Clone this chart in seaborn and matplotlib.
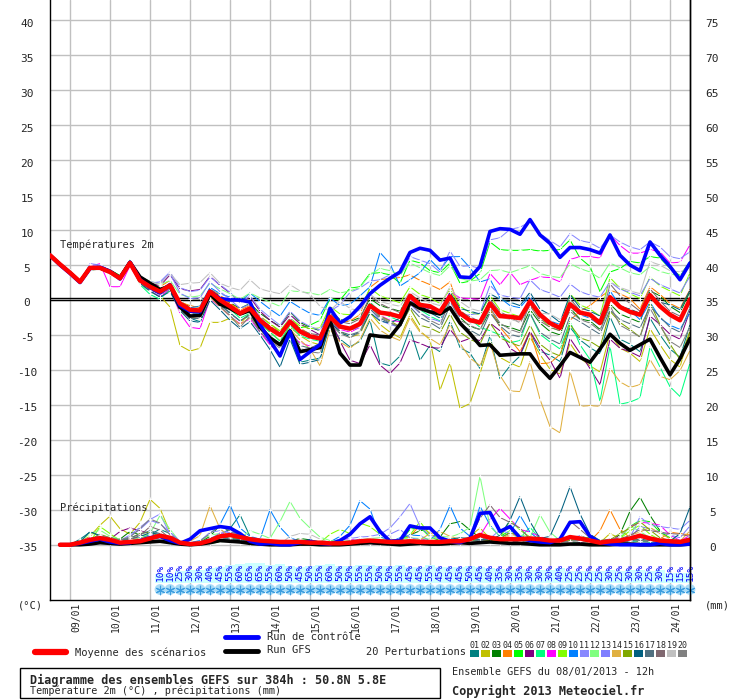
import numpy as np
import pandas as pd
import seaborn as sns
import matplotlib
matplotlib.use("Agg")
import matplotlib.pyplot as plt
import matplotlib.transforms as mtransforms
from matplotlib.patches import Rectangle
from matplotlib.lines import Line2D

sns.set_style("white")
plt.rcParams['font.family'] = ['DejaVu Sans Mono']

# ---- data: GEFS run 08/01/2013 12h, one value every 6 h (0..384 h) ----
dates = ["09/01", "10/01", "11/01", "12/01", "13/01", "14/01", "15/01", "16/01",
         "17/01", "18/01", "19/01", "20/01", "21/01", "22/01", "23/01", "24/01"]

members = ["%02d" % k for k in range(1, 21)]
member_colors = ["#008080", "#c0c000", "#008000", "#ff8000", "#00ff00",
                 "#800080", "#00ff80", "#ff00ff", "#80ff00", "#0080ff",
                 "#8888ff", "#80ff80", "#7f7fff", "#e0b040", "#80a800",
                 "#006080", "#507080", "#806870", "#c0c0c0", "#808080"]

t_mean = [6.4, 5.1, 3.9, 2.6, 4.6, 4.6, 4.0, 3.1, 5.3, 2.8,
          1.9, 1.2, 2.1, -0.5, -1.4, -1.5, 1.2, 0.0, -0.9, -1.9,
          -1.2, -2.9, -4.1, -5.0, -3.1, -4.5, -5.2, -5.5, -2.4, -3.8,
          -4.1, -3.4, -0.8, -1.8, -2.0, -2.4, 0.6, -0.7, -0.9, -1.7,
          0.5, -1.9, -2.9, -3.2, -0.5, -2.3, -2.4, -2.6, -0.2, -2.1,
          -3.3, -4.0, -0.6, -1.8, -2.1, -3.3, 0.4, -1.0, -1.7, -2.1,
          0.7, -0.9, -2.1, -2.9, 0.1]

t_control = [6.4, 5.0, 3.8, 2.5, 4.5, 4.7, 4.1, 3.0, 5.4, 2.9, 1.8, 1.0, 2.2,
             -0.8, -1.6, -1.7, 1.3, 0.2, 0.0, 0.0, -0.3, -3.5, -5.8, -8.0, -4.5,
             -8.5, -7.4, -6.4, -1.2, -3.3, -2.4, -0.9,
             0.9, 2.1, 3.1, 4.0, 6.8, 7.4, 7.1, 5.7, 6.0, 3.3, 3.2, 4.8, 9.8, 10.2,
             10.1, 9.4, 11.5, 9.3, 8.1, 6.1, 7.5, 7.5, 7.2, 6.7, 9.3, 6.4, 5.0, 4.2,
             8.3, 6.4, 4.8, 2.9, 5.3]

t_gfs = [6.4, 5.1, 3.9, 2.6, 4.6, 4.6, 4.1, 3.2, 5.4, 3.3, 2.4, 1.5, 2.0,
         -1.0, -2.3, -2.2, 0.9, -0.6, -1.2, -2.0, -1.5, -3.9, -5.4, -6.4, -4.4,
         -7.4, -7.1, -6.8, -2.9, -7.6, -9.3, -9.3,
         -5.0, -5.2, -5.3, -3.5, -0.4, -1.2, -1.7, -2.0, -1.1, -3.3, -4.8, -6.5,
         -6.4, -7.9, -7.8, -7.7, -7.7, -9.7, -11.2, -9.4, -7.5, -8.2, -8.9, -7.0,
         -4.9, -6.2, -7.2, -6.4, -5.6, -8.2, -10.7, -8.4, -5.5]

t_members = [
    [6.3, 5.0, 3.8, 2.4, 4.4, 4.8, 3.9, 3.3, 5.2, 2.5, 1.6, 0.9, 1.8,
     -1.2, -2.6, -3.1, 0.8, -0.6, -1.9, -3.0, -2.2, -4.5, -6.3, -7.7, -5.2, -8.9, -8.6, -8.3, -3.6, -5.6, -6.7, -5.9,
     -2.9, -9.0, -9.4, -8.0, -4.1, -8.6, -6.5, -7.4, -3.0, -6.8, -7.6, -9.8, -5.1, -11.3, -9.4, -8.0, -4.6, -7.3,
     -7.9, -8.8, -3.9, -5.7, -6.8, -7.7, -2.4, -5.6, -6.3, -7.4, -2.6, -5.0, -7.0, -8.2, -3.5],
    [6.2, 5.0, 4.0, 2.7, 4.3, 4.4, 3.8, 3.0, 5.0, 2.9, 2.2, 0.6, -1.0,
     -6.5, -7.3, -6.9, -3.2, -3.2, -2.6, -3.4, -1.8, -3.3, -4.6, -5.8, -3.9, -5.1, -6.0, -6.4, -3.2, -4.5, -5.3, -4.9,
     -1.8, -3.5, -4.6, -5.4, -2.1, -4.4, -5.7, -12.9, -9.0, -15.5, -14.8, -10.5, -5.9, -8.2, -9.0, -9.6, -5.3, -7.8,
     -9.9, -10.6, -6.2, -8.3, -9.4, -10.3, -4.8, -6.9, -7.6, -8.8, -4.1, -6.4, -8.5, -9.6, -4.5],
    [6.5, 5.2, 4.1, 2.8, 4.9, 4.8, 4.2, 3.4, 5.6, 3.1, 2.0, 1.0, 1.9,
     -0.2, -1.0, -0.9, 1.4, 0.6, -0.4, -1.2, -0.5, -1.9, -2.9, -3.8, -1.7, -3.2, -3.9, -4.4, -1.5, -2.8, -3.1, -2.5,
     0.2, -0.8, -1.2, -1.6, 0.9, -0.3, -1.4, -2.1, 0.8, -2.5, -3.8, -4.2, -1.6, -3.5, -3.9, -4.4, -1.4, -3.3,
     -4.5, -5.0, -1.2, -2.7, -3.0, -4.2, -0.6, -2.0, -2.6, -3.2, 1.3, 0.6, -0.9, -1.8, 1.2],
    [6.4, 5.1, 3.8, 2.5, 4.7, 4.5, 3.9, 3.0, 5.3, 2.7, 2.2, 1.9, 2.8,
     -0.3, -0.8, -1.1, 1.6, 0.7, -0.5, -1.4, -0.8, -2.3, -3.4, -4.6, -2.6, -4.0, -4.9, -5.3, -2.0, -3.2, -3.0, -2.1,
     1.8, 2.9, 3.1, 3.2, 3.6, 2.8, 2.2, 1.5, 2.6, -1.4, -2.8, -3.6, -1.2, -3.9, -5.6, -7.4, -4.5, -9.1,
     -9.0, -7.8, -2.9, -1.6, -0.8, 0.4, 1.4, 0.9, 0.2, -1.3, 1.9, 0.8, -0.5, -1.2, 1.5],
    [6.6, 5.3, 4.0, 2.7, 4.8, 4.7, 4.3, 3.5, 5.7, 2.4, 1.2, 0.5, 1.4,
     -0.9, -1.6, -1.8, 0.6, -0.4, -1.1, -2.2, -1.5, -3.0, -3.9, -4.6, -2.9, -4.0, -3.6, -2.9, 0.2, 0.0, 1.7, 1.9,
     3.8, 3.9, 3.6, 2.4, 5.7, 5.3, 4.2, 3.9, 5.3, 2.4, 2.7, 3.8, 8.3, 7.2, 7.1, 7.1, 7.2, 7.0,
     7.1, 7.2, 8.6, 6.0, 4.8, 1.2, 4.0, 4.5, 5.5, 5.3, 6.2, 6.0, 4.5, 3.5, 5.5],
    [6.3, 5.0, 3.9, 2.6, 4.5, 4.6, 4.0, 3.2, 5.2, 3.0, 2.5, 2.0, 3.6,
     1.6, 1.3, 1.5, 3.4, 2.1, 1.0, -0.3, 0.4, -1.6, -2.9, -3.9, -2.1, -3.4, -4.2, -5.0, -2.7, -5.9, -8.6, -9.1,
     -6.4, -9.3, -10.5, -9.0, -5.7, -6.2, -6.8, -6.9, -4.2, -6.0, -5.5, -5.8, -3.3, -4.4, -6.9, -7.8, -4.5, -6.8,
     -8.6, -11.2, -5.5, -7.6, -9.8, -12.1, -5.6, -6.9, -7.4, -8.1, -2.3, -3.5, -4.9, -5.6, -1.5],
    [6.5, 5.2, 3.9, 2.6, 4.6, 4.6, 4.1, 3.1, 5.5, 2.2, 0.8, 0.1, 1.6,
     -1.1, -1.9, -2.0, 0.9, -0.2, -1.3, -2.6, -1.9, -3.3, -4.6, -5.9, -3.6, -5.1, -5.6, -5.9, -2.0, -3.9, -4.4, -3.7,
     -0.3, -1.7, -2.4, -3.0, 0.2, -1.4, -2.3, -3.0, 0.3, -1.9, -2.7, -3.9, -4.4, -5.0, -6.1, -5.8, -1.9, -4.9,
     -6.0, -7.0, -3.1, -6.4, -8.5, -14.5, -6.6, -14.9, -14.6, -14.0, -6.7, -9.6, -12.4, -13.8, -9.0],
    [6.4, 5.0, 3.8, 2.5, 4.8, 5.2, 1.9, 1.9, 4.9, 2.4, 1.3, 0.5, 1.6,
     -1.9, -3.9, -4.1, 0.2, -1.0, -2.3, -3.4, -2.7, -4.6, -6.4, -7.7, -4.8, -6.1, -6.6, -7.0, -3.4, -4.2, -4.6, -3.9,
     -1.0, -2.2, -2.9, -3.1, 0.1, -0.9, -1.3, -1.6, 1.2, 0.3, 0.2, 0.1, 3.8,
     2.2, 4.0, 2.2, 2.8, 3.3, 3.2, 2.6, 5.8, 6.2, 6.2, 6.0, 9.3, 7.8, 6.7, 6.7, 7.2, 6.9, 5.3, 5.4, 7.9],
    [6.4, 5.1, 4.0, 2.7, 4.6, 4.4, 3.9, 3.0, 5.2, 2.6, 1.7, 1.1, 2.0,
     -0.8, -1.6, -1.4, 1.0, -0.2, -1.1, -2.0, -1.0, -2.4, -3.4, -4.4, -2.6, -3.7, -4.1, -4.0, -0.9, -2.0, -2.1, -1.3,
     1.7, 0.6, 0.1, -0.4, 1.9, 0.8, 0.3, -0.5, 1.5, -0.9, -1.8, -2.1, 0.6, -1.4, -1.9, -2.4, -0.6, -2.6,
     -3.9, -4.4, 0.9, -0.7, -1.3, -2.3, 3.2, 1.7, 0.9, 0.2, 3.3, 2.0, 1.3, 0.6, 3.9],
    [6.3, 5.0, 3.9, 2.6, 4.4, 4.6, 4.2, 3.4, 5.5, 3.2, 2.3, 1.5, 2.4,
     -0.4, -1.1, -0.9, 1.8, 0.9, 0.4, -0.3, 1.0, -0.2, -1.3, -2.3, -0.2, -1.1, -1.9, -2.2, 0.3, -0.8, -0.6, 0.6,
     1.9, 6.8, 5.2, 2.0, 2.9, 3.9, 5.8, 4.3, 6.2, 6.2, 4.6, 2.6, 3.0, 0.3, -0.8, -1.1, 0.6, -2.4,
     -3.0, -3.5, -0.9, -2.1, -2.6, -3.6, 1.3, -0.8, -1.5, -2.8, -0.3, -2.6, -3.6, -4.2, -1.8],
    [6.5, 5.3, 4.1, 2.8, 5.0, 4.9, 4.3, 3.3, 5.5, 2.9, 2.4, 2.6, 4.0,
     1.8, 1.2, 1.4, 3.3, 2.2, 1.1, -0.4, 0.6, -1.3, -2.5, -3.6, -1.6, -3.0, -3.8, -4.3, -1.6, -0.7, 1.1, 1.7,
     2.7, 2.9, 3.6, 3.4, 6.2, 5.7, 5.2, 4.0, 7.0, 4.8, 4.9, 4.5, 8.6, 8.9, 10.1, 10.4, 11.2, 9.5,
     8.5, 7.6, 9.5, 8.5, 8.2, 7.4, 9.3, 8.3, 7.6, 7.2, 8.3, 7.6, 6.2, 5.9, 6.9],
    [6.5, 5.2, 4.1, 2.8, 4.7, 4.7, 4.2, 3.4, 5.6, 3.3, 2.7, 2.2, 2.8,
     0.8, 0.4, 0.6, 2.4, 1.6, 0.9, 0.1, 1.0, 0.3, -0.3, -0.9, 1.3, 1.2, 1.0, 0.7, 1.5, 1.0, 1.3, 1.8,
     3.6, 4.5, 4.2, 3.6, 5.3, 4.6, 3.9, 3.5, 4.9, 3.1, 2.7, 2.9, 4.2, 4.3, 3.9, 4.4, 4.9, 3.8,
     3.4, 3.2, 5.2, 4.5, 4.0, 3.1, 5.3, 4.6, 3.9, 3.6, 4.8, 4.1, 3.7, 3.5, 4.9],
    [6.2, 4.9, 3.7, 2.4, 5.2, 5.0, 4.2, 3.0, 5.6, 3.4, 2.6, 2.4, 3.8,
     1.0, 0.2, 0.3, 2.6, 1.2, 0.1, -1.2, -0.6, -2.4, -3.8, -4.8, -2.6, -4.3, -5.1, -5.0, -2.2, -3.7, -4.3, -3.9,
     -1.2, -2.9, -3.5, -3.9, -0.6, -1.9, -2.6, -3.1, -0.3, -2.4, -2.1, -1.9, 2.1, 0.7, 0.4, 0.2, 2.9, 1.5,
     1.0, 0.4, 2.3, 1.2, 0.7, 0.4, 2.6, 1.5, 1.1, 0.6, 3.1, 2.2, 1.6, 1.0, 3.4],
    [6.3, 5.0, 3.9, 2.6, 4.5, 4.4, 3.8, 2.9, 5.1, 2.3, 1.6, 0.9, 1.9,
     -1.6, -2.5, -2.7, 0.4, -1.0, -2.3, -3.5, -2.5, -4.1, -5.6, -6.6, -4.2, -5.7, -7.0, -9.4, -4.2, -6.0, -6.9, -5.7,
     -2.6, -4.3, -5.2, -5.8, -2.5, -4.6, -5.5, -6.4, -3.5, -6.2, -8.3, -9.4, -6.1, -10.8, -13.0, -13.1, -8.8, -14.2,
     -18.1, -19.0, -10.2, -15.2, -15.1, -15.2, -9.8, -11.7, -12.5, -12.1, -8.5, -10.9, -11.4, -10.1, -7.2],
    [6.4, 5.2, 4.0, 2.6, 4.6, 4.5, 4.1, 3.2, 5.3, 2.6, 1.8, 1.3, 2.1,
     -0.7, -1.5, -1.7, 1.0, -0.4, -1.3, -2.2, -1.4, -2.9, -4.0, -5.2, -3.2, -4.4, -5.3, -5.6, -2.5, -3.8, -4.3, -3.6,
     -1.0, -2.3, -3.0, -3.8, -1.2, -3.6, -4.0, -4.7, -2.0, -4.6, -5.6, -6.3, -3.3, -5.4, -6.1, -6.6, -3.6, -6.3,
     -7.4, -8.0, -3.5, -5.4, -5.9, -6.8, -1.6, -3.2, -4.2, -5.3, -0.4, -3.5, -6.3, -8.5, -4.4],
    [6.3, 5.1, 3.9, 2.5, 4.3, 4.4, 3.8, 3.1, 5.2, 2.4, 1.3, 0.4, 1.2,
     -1.5, -3.0, -3.2, 0.0, -1.4, -2.9, -4.1, -3.1, -5.0, -7.1, -9.6, -5.6, -9.2, -8.9, -8.5, -3.0, -4.7, -5.2, -4.6,
     -1.8, -3.0, -3.3, -2.6, 0.7, -0.7, -1.8, -2.6, 1.1, -1.2, -1.6, -2.0, 0.9, 0.1, -0.3, -0.8, 1.1, -1.3,
     -2.1, -3.2, 0.8, -1.1, -1.6, -2.3, 0.6, -0.9, -1.3, -1.9, 0.8, -0.3, -0.7, -1.4, 1.4],
    [6.2, 4.9, 3.8, 2.4, 4.4, 4.6, 4.0, 3.0, 5.3, 2.6, 1.5, 0.8, 1.7,
     -1.3, -2.7, -2.6, 0.7, -0.8, -1.8, -3.0, -2.0, -4.1, -5.5, -6.5, -4.2, -6.5, -6.9, -6.2, -2.6, -4.5, -5.0, -4.5,
     -1.3, -2.6, -3.3, -3.9, -1.0, -2.5, -3.2, -4.1, -0.8, -3.4, -4.3, -5.1, -1.8, -3.7, -4.9, -5.3, -1.9, -4.6,
     -5.6, -6.3, -2.3, -3.1, -4.0, -4.9, -1.4, -2.8, -3.4, -4.0, -0.9, -2.4, -3.9, -4.6, -1.1],
    [6.4, 5.1, 3.9, 2.6, 4.5, 4.6, 4.1, 3.2, 5.4, 2.8, 1.9, 1.2, 2.1,
     -0.6, -1.4, -1.5, 1.1, -0.3, -1.2, -2.1, -1.3, -2.8, -3.7, -4.8, -2.8, -4.2, -4.8, -5.0, -1.9, -3.1, -3.4, -2.7,
     0.6, -0.5, -1.2, -1.8, 1.0, -0.6, -1.3, -2.2, 0.2, -1.6, -2.4, -3.1, 0.1, -1.7, -2.4, -3.3, -0.8, -3.0,
     -3.9, -4.4, 0.2, -1.5, -2.6, -3.5, 2.3, 0.6, -0.5, -1.6, 1.6, -0.1, -1.6, -2.3, -0.4],
    [6.5, 5.2, 4.0, 2.7, 4.8, 4.7, 4.1, 3.3, 5.5, 3.2, 2.6, 2.3, 3.8,
     2.2, 2.4, 2.5, 3.9, 2.4, 1.8, 1.4, 2.9, 1.6, 1.2, 0.9, 2.2, 1.3, 0.8, -0.9, -1.5, -0.2, -1.2, -1.6,
     0.8, -0.2, -0.6, -0.9, 1.2, 0.3, -0.4, -0.8, 1.9, -0.2, -1.2, -1.6, -1.9, -2.4, -2.8, -3.1, -0.6, -1.9,
     -2.0, -2.8, -1.3, -1.9, -2.4, -2.8, 2.6, 1.8, 1.3, 0.9, 5.5, 5.0, 4.2, 4.0, 4.7],
    [6.3, 5.0, 3.8, 2.5, 4.6, 4.5, 3.9, 3.1, 5.3, 2.9, 2.0, 1.3, 2.3,
     -0.8, -1.9, -2.1, 0.9, -0.9, -2.2, -3.9, -2.3, -4.6, -5.8, -6.9, -4.6, -6.9, -7.4, -7.6, -3.4, -4.8, -5.4, -4.6,
     -0.9, -2.4, -3.2, -3.9, -0.4, -1.8, -2.9, -3.6, -0.1, -2.9, -3.6, -4.3, -1.1, -3.3, -4.2, -4.7, -0.2, -2.7,
     -3.6, -4.2, -1.6, -2.8, -3.3, -4.4, -0.8, -3.6, -4.4, -5.3, -1.2, -3.7, -5.9, -6.8, -3.8],
]

# precipitation (mm per 6 h), from +6 h to +384 h
p_mean = [0, 0, 0.3, 0.7, 0.95, 0.7, 0.3, 0.4, 0.5, 0.9,
          1.3, 1.0, 0.3, 0.1, 0.2, 0.6, 1.2, 1.4, 1.1, 0.8,
          0.6, 0.5, 0.4, 0.4, 0.4, 0.3, 0.3, 0.2, 0.2, 0.3,
          0.5, 0.6, 0.5, 0.4, 0.4, 0.5, 0.4, 0.4, 0.4, 0.5,
          0.5, 0.8, 1.4, 1.0, 0.8, 0.8, 0.8, 0.9, 0.8, 0.6,
          0.6, 1.1, 0.9, 0.6, 0.3, 0.5, 0.6, 0.9, 1.3, 0.9,
          0.6, 0.5, 0.4, 0.7]

p_control = [0, 0, 0.2, 0.5, 0.8, 0.4, 0.2, 0.3, 0.6, 1.0,
             1.2, 0.6, 0.2, 0.8, 2.0, 2.3, 2.6, 2.4, 1.6, 0.5,
             0.1, 0.2, 0, 0, 0.3, 0.5, 0.2, 0.1, 0.6, 1.5,
             3.0, 4.0, 1.9, 0.5, 0.6, 2.7, 2.4, 2.4, 1.0, 0.5,
             0.3, 0.9, 4.5, 4.6, 1.9, 2.6, 1.0, 0.6, 0.4, 0.3,
             0.8, 3.2, 3.3, 1.2, 0.3, 0.1, 0, 0, 0, 0,
             0.2, 0, 0, 0.1]

p_gfs = [0, 0, 0, 0.1, 0.3, 0.2, 0.1, 0.2, 0.3, 0.4,
         0.5, 0.3, 0.1, 0, 0.1, 0.3, 0.6, 0.5, 0.4, 0.2,
         0.1, 0, 0, 0, 0.1, 0.1, 0, 0, 0, 0.1,
         0.2, 0.3, 0.2, 0.1, 0, 0.1, 0.2, 0.1, 0.1, 0.2,
         0.3, 0.2, 0.3, 0.4, 0.3, 0.2, 0.2, 0.1, 0, 0,
         0, 0.1, 0.1, 0, 0, 0, 0.1, 0.1, 0, 0,
         0, 0, 0, 0.1]

p_members = [
    [0, 0, 0.8, 1.8, 1.2, 0.5, 0.3, 0.5, 0.9, 1.5, 2.2, 1.6, 0.4, 0.2, 0.3, 0.5, 1.4, 2.3, 4.3, 1.2,
     0.5, 0.3, 0.2, 0.1, 0.2, 0.3, 0.1, 0, 0, 0.2, 0.4, 0.3, 0.1, 0, 0.2, 0.5, 0.3, 0.2, 0.1, 0.4,
     0.6, 0.3, 0.8, 0.5, 0.3, 0.2, 0.4, 0.2, 0.1, 0, 0.2, 0.6, 0.4, 0.2, 0, 0.1, 0.3, 0.6, 1.2, 0.8,
     0.5, 0.3, 0.6, 1.0],
    [0, 0, 0.5, 1.2, 2.8, 4.1, 2.3, 1.5, 3.2, 6.5, 5.2, 1.8, 0.3, 0, 0.2, 0.8, 1.3, 0.9, 0.5, 0.3,
     0.2, 0, 0, 0.1, 0.3, 0.2, 0.1, 0, 0.2, 0.4, 0.6, 0.3, 0.2, 0.1, 0.3, 0.2, 0.1, 0.4, 0.8, 0.5,
     0.3, 1.2, 2.4, 0.9, 0.6, 0.4, 0.3, 0.2, 0.1, 0.3, 0.5, 0.8, 0.4, 0.1, 0.3, 1.6, 0.9, 0.6, 0.4, 0.2,
     0.1, 0.3, 0.2, 0.5],
    [0, 0, 0.3, 0.9, 1.0, 0.6, 0.8, 1.9, 1.4, 1.0, 1.3, 0.8, 0.2, 0.1, 0.4, 1.2, 2.8, 1.9, 1.5, 1.0,
     0.6, 0.4, 0.3, 0.5, 0.9, 0.7, 0.4, 0.3, 0.1, 0.2, 0.4, 0.6, 0.5, 0.3, 0.8, 1.4, 2.0, 2.3, 1.1, 3.0,
     3.3, 2.1, 1.0, 0.7, 0.5, 0.6, 0.4, 0.2, 0.3, 0.5, 0.2, 0.4, 0.8, 0.6, 0.5, 0.3, 1.5, 4.8, 6.8, 4.2,
     2.0, 0.8, 0.3, 0.4],
    [0, 0, 0.2, 0.5, 0.8, 0.4, 0.3, 0.6, 0.9, 1.1, 1.4, 0.9, 0.3, 0.1, 0.3, 0.6, 1.0, 1.2, 0.8, 0.6,
     0.4, 0.3, 0.2, 0.4, 0.5, 0.3, 0.2, 0.1, 0.2, 0.4, 0.6, 0.5, 0.8, 0.4, 0.6, 1.2, 2.8, 1.6, 0.7, 0.5,
     0.8, 0.9, 1.0, 0.4, 0.8, 1.2, 0.6, 0.3, 0.2, 0.3, 0.4, 0.6, 0.8, 0.5, 2.0, 5.0, 2.2, 1.0, 0.6, 0.5,
     0.8, 1.8, 1.6, 1.4],
    [0, 0, 0.1, 0.3, 0.5, 0.2, 0.1, 0.3, 0.5, 0.8, 0.6, 0.3, 0.1, 0, 0.1, 0.2, 0.4, 0.6, 0.3, 0.2,
     0.1, 0.1, 0, 0.1, 0.2, 0.1, 0, 0, 0.1, 0.3, 0.4, 0.5, 0.4, 0.2, 0.3, 2.2, 2.5, 1.1, 0.6, 0.4,
     0.3, 0.5, 0.6, 0.8, 1.2, 2.0, 1.4, 0.6, 0.3, 0.2, 0.3, 0.5, 1.0, 0.6, 0.4, 0.3, 1.0, 2.6, 3.5, 3.3,
     1.8, 1.0, 0.6, 0.4],
    [0, 0, 0.2, 0.6, 1.0, 0.8, 1.9, 2.4, 2.0, 1.6, 1.1, 0.7, 0.2, 0, 0.1, 0.3, 0.6, 0.8, 0.5, 0.3,
     0.2, 0.1, 0.1, 0.1, 0.2, 0.1, 0, 0, 0.1, 0.2, 0.2, 0.1, 0.1, 0, 0.2, 0.4, 0.3, 0.2, 0.1, 0.1,
     0.2, 0.4, 0.6, 0.4, 0.3, 0.2, 0.1, 0.1, 0, 0, 0.1, 0.2, 0.3, 0.2, 0.1, 0, 0.1, 0.3, 0.4, 0.3,
     0.2, 0.1, 0.1, 0.3],
    [0, 0, 0.2, 0.5, 0.4, 0.3, 0.2, 0.4, 0.6, 0.9, 0.8, 0.4, 0.1, 0, 0.2, 0.4, 0.7, 0.9, 0.6, 0.4,
     0.3, 0.2, 0.1, 0.2, 0.3, 0.2, 0.1, 0, 0.1, 0.2, 0.3, 0.2, 0.2, 0.1, 0.3, 0.6, 0.4, 0.3, 0.2, 0.5,
     0.6, 0.4, 0.5, 0.3, 0.2, 0.6, 1.0, 2.5, 0.8, 0.4, 0.3, 0.2, 0.5, 1.2, 0.6, 0.3, 0.2, 0.4, 0.6, 0.3,
     0.2, 0.1, 0.2, 0.5],
    [0, 0, 0.5, 1.0, 0.7, 0.4, 0.3, 0.5, 0.8, 1.2, 1.5, 0.9, 0.3, 0.1, 0.2, 0.6, 1.7, 1.3, 0.9, 0.6,
     0.4, 0.3, 0.2, 0.3, 0.5, 0.4, 0.2, 0.1, 0.7, 0.9, 0.4, 0.3, 0.2, 0.1, 0.3, 0.7, 0.9, 0.5, 0.3, 0.6,
     0.8, 0.9, 1.3, 3.6, 5.2, 3.7, 2.2, 1.8, 1.2, 0.6, 0.5, 0.8, 0.6, 0.4, 0.3, 0.6, 1.2, 2.6, 3.2, 3.1,
     2.8, 1.4, 0.6, 1.3],
    [0, 0, 0.2, 0.4, 2.6, 1.6, 0.6, 0.5, 0.9, 1.4, 1.0, 0.5, 0.1, 0, 0.1, 0.3, 0.5, 0.6, 0.4, 0.3,
     0.2, 0.1, 0.2, 0.3, 0.6, 0.4, 0.3, 1.5, 2.2, 1.6, 3.1, 2.6, 1.5, 0.8, 0.6, 1.4, 3.3, 1.4, 0.9, 0.5,
     0.6, 0.8, 1.4, 1.0, 0.9, 3.5, 2.1, 1.1, 0.6, 0.3, 0.2, 0.4, 1.1, 0.9, 0.6, 0.3, 0.9, 2.0, 2.8, 1.5,
     0.7, 0.4, 0.3, 0.6],
    [0, 0, 0.3, 0.7, 0.6, 0.4, 0.3, 0.6, 1.0, 1.4, 1.2, 0.6, 0.2, 0.3, 0.6, 1.6, 2.9, 5.7, 2.4, 1.2,
     0.8, 5.0, 2.5, 1.0, 0.5, 0.3, 0.2, 0.4, 1.2, 2.8, 6.3, 5.1, 1.2, 0.4, 1.0, 1.4, 1.3, 0.6, 2.2, 5.6,
     2.4, 1.2, 5.5, 2.8, 1.1, 1.6, 4.2, 1.8, 0.6, 0.3, 0.5, 0.7, 0.5, 0.3, 0.2, 0.4, 0.6, 0.4, 0.3, 0.2,
     0.3, 0.2, 0.1, 0.4],
    [0, 0, 0.3, 0.6, 1.0, 0.8, 0.6, 1.4, 2.5, 3.6, 4.4, 1.5, 0.3, 0.1, 0.5, 1.8, 2.0, 1.7, 1.4, 0.9,
     0.6, 0.5, 0.4, 0.4, 0.6, 0.5, 0.3, 0.4, 0.8, 0.9, 1.1, 1.2, 1.5, 2.4, 4.0, 5.9, 2.6, 1.3, 0.8, 0.5,
     0.6, 0.8, 1.0, 0.9, 2.1, 1.6, 1.2, 0.9, 0.6, 0.4, 0.5, 0.9, 1.3, 0.8, 0.5, 0.4, 0.7, 1.0, 4.0, 2.8,
     2.6, 2.4, 2.2, 3.5],
    [0, 0, 0.5, 1.6, 2.1, 1.2, 0.8, 0.6, 1.0, 1.6, 4.2, 2.2, 0.4, 0.1, 0.5, 1.4, 1.6, 1.2, 0.9, 2.0,
     1.5, 0.9, 3.3, 6.2, 3.8, 2.4, 1.1, 0.6, 0.5, 0.6, 0.7, 0.9, 1.0, 0.6, 0.8, 1.0, 0.9, 0.8, 1.2, 1.1,
     1.6, 2.5, 9.8, 2.6, 1.2, 0.7, 1.5, 1.0, 4.3, 1.8, 0.6, 0.5, 0.6, 0.4, 0.3, 0.5, 1.1, 2.7, 1.9, 1.0,
     0.6, 0.4, 0.5, 0.8],
    [0, 0, 0.4, 0.8, 0.9, 0.6, 0.5, 1.2, 2.2, 3.5, 3.0, 1.8, 0.5, 0.2, 0.4, 0.9, 1.6, 2.0, 1.3, 0.9,
     0.7, 0.5, 0.3, 0.4, 0.6, 0.5, 0.3, 0.2, 0.4, 0.5, 0.8, 0.6, 0.4, 1.5, 2.2, 1.0, 0.7, 0.5, 0.4, 0.6,
     0.8, 1.0, 1.5, 1.2, 0.9, 0.6, 0.5, 0.4, 0.3, 0.3, 0.4, 0.9, 1.2, 0.8, 0.5, 0.4, 0.6, 0.9, 2.6, 2.3,
     1.8, 1.4, 1.0, 2.7],
    [0, 0, 0.2, 0.6, 1.3, 0.9, 0.5, 0.7, 0.9, 1.2, 0.9, 0.5, 0.2, 0.5, 1.3, 5.6, 2.3, 1.1, 0.7, 0.4,
     0.3, 0.2, 0.1, 0.2, 0.4, 0.3, 0.2, 0.1, 0.3, 0.4, 0.6, 0.5, 0.3, 0.2, 0.4, 0.8, 0.7, 1.6, 1.9, 1.2,
     0.8, 1.1, 0.7, 0.5, 0.8, 1.5, 1.2, 0.7, 0.5, 0.3, 0.4, 0.6, 0.5, 0.3, 0.2, 0.3, 0.5, 1.4, 1.8, 2.5,
     1.6, 0.9, 0.5, 2.0],
    [0, 0, 0.3, 0.7, 1.5, 1.0, 0.7, 0.9, 1.6, 1.8, 1.2, 0.6, 0.2, 0.1, 0.3, 0.8, 1.5, 1.1, 0.8, 0.5,
     0.4, 0.3, 0.2, 0.3, 0.5, 0.4, 0.2, 0.1, 0.2, 0.3, 0.5, 0.4, 0.3, 0.2, 0.4, 0.6, 0.5, 0.4, 0.3, 0.5,
     0.7, 0.6, 0.8, 0.6, 0.9, 1.8, 1.2, 0.6, 0.4, 0.3, 0.4, 0.6, 1.2, 0.9, 0.6, 0.7, 1.6, 2.4, 3.3, 2.1,
     1.0, 0.6, 0.4, 0.8],
    [0, 0, 0.4, 1.9, 1.3, 0.7, 0.5, 0.8, 1.2, 1.7, 1.5, 0.8, 0.3, 0.2, 0.4, 0.9, 1.1, 0.9, 0.7, 0.5,
     0.4, 0.3, 0.2, 0.3, 0.5, 0.4, 0.3, 0.2, 0.4, 0.5, 0.6, 0.5, 0.3, 0.2, 0.3, 0.6, 0.5, 0.4, 0.5, 0.8,
     1.0, 0.9, 0.7, 0.8, 1.3, 3.5, 6.9, 3.3, 0.9, 1.2, 4.4, 8.3, 4.4, 1.5, 0.6, 0.4, 0.3, 0.5, 0.8, 0.6,
     0.4, 0.5, 1.6, 5.4],
    [0, 0, 0.3, 0.6, 0.9, 0.7, 0.6, 1.0, 1.5, 2.0, 1.6, 0.8, 0.3, 0.1, 0.3, 0.7, 1.0, 0.8, 0.6, 0.4,
     0.3, 0.2, 0.2, 0.3, 0.4, 0.3, 0.2, 0.1, 0.2, 0.3, 0.4, 0.3, 0.2, 0.2, 0.3, 0.5, 0.4, 0.3, 0.4, 0.5,
     0.6, 0.5, 0.6, 0.8, 0.7, 0.5, 0.4, 0.3, 0.3, 0.2, 0.3, 0.5, 0.6, 0.4, 0.3, 0.4, 0.6, 0.8, 0.6, 0.5,
     0.4, 0.3, 0.3, 0.6],
    [0, 0, 0.2, 0.5, 0.7, 0.5, 0.4, 0.8, 1.3, 2.6, 2.1, 0.9, 0.3, 0.1, 0.2, 0.5, 0.8, 0.7, 0.5, 0.4,
     0.3, 0.2, 0.1, 0.2, 0.3, 0.2, 0.1, 0.1, 0.2, 0.3, 0.4, 0.3, 0.2, 0.1, 0.2, 0.4, 0.3, 0.2, 0.3, 0.4,
     0.6, 0.9, 3.8, 5.7, 3.9, 3.2, 2.4, 0.8, 0.4, 0.3, 0.9, 3.4, 2.2, 1.0, 0.6, 0.8, 0.9, 1.3, 2.2, 2.0,
     1.8, 1.6, 1.5, 1.2],
    [0, 0, 0.1, 0.3, 0.4, 0.3, 0.2, 0.4, 0.6, 0.8, 0.7, 0.4, 0.1, 0, 0.1, 0.3, 0.5, 0.6, 0.4, 0.3,
     0.2, 0.2, 0.1, 1.2, 1.6, 1.5, 0.8, 0.3, 0.2, 0.3, 0.4, 0.3, 0.2, 0.1, 0.2, 0.3, 0.3, 0.2, 0.2, 0.3,
     0.4, 0.4, 0.5, 0.4, 0.3, 0.3, 0.2, 0.2, 0.1, 0.1, 0.2, 0.4, 0.5, 0.4, 0.3, 0.2, 0.3, 0.4, 0.3, 0.2,
     0.2, 0.1, 0.1, 0.2],
    [0, 0, 0.3, 0.8, 1.4, 1.0, 0.7, 1.1, 2.3, 3.7, 3.1, 1.4, 0.4, 0.2, 0.5, 1.6, 2.7, 2.0, 1.3, 0.8,
     0.5, 0.3, 0.2, 0.3, 0.5, 0.4, 0.3, 0.2, 0.3, 0.4, 0.5, 0.4, 0.3, 0.2, 0.3, 0.5, 0.4, 0.3, 0.4, 0.5,
     0.6, 0.7, 0.9, 1.1, 0.8, 0.6, 0.5, 0.4, 0.3, 0.2, 0.3, 0.5, 0.6, 0.5, 0.4, 0.3, 0.5, 0.7, 0.6, 0.5,
     0.4, 0.3, 0.2, 0.5],
]

# snow probability (%) from +66 h to +384 h
snow_first = 11
snow_prob = [10, 10, 25, 30, 30, 40, 45, 55, 60, 65, 65, 55, 60, 50, 45, 50, 55, 60, 50, 50,
             55, 55, 50, 50, 55, 45, 45, 55, 45, 45, 45, 50, 45, 40, 35, 30, 35, 30, 30, 30,
             40, 25, 25, 25, 25, 30, 25, 30, 30, 25, 30, 15, 15, 15]

# ---- figure ----
W, H = 740, 700
fig = plt.figure(figsize=(W / 100, H / 100), dpi=100)
ax = fig.add_axes([50 / W, 100 / H, 640 / W, 600 / H])

step = 6
hours = np.arange(len(t_mean)) * step
hours_p = np.arange(1, len(t_mean)) * step
P0 = -35   # 0 mm sits on the -35 line of the temperature scale

rows_t, rows_p = [], []
for name, tv, pv in zip(members, t_members, p_members):
    rows_t += [(name, h, v) for h, v in zip(hours, tv)]
    rows_p += [(name, h, v + P0) for h, v in zip(hours_p, pv)]
df_t = pd.DataFrame(rows_t, columns=["member", "hour", "val"])
df_p = pd.DataFrame(rows_p, columns=["member", "hour", "val"])
pal = dict(zip(members, member_colors))

for df in (df_t, df_p):
    sns.lineplot(data=df, x="hour", y="val", hue="member", palette=pal,
                 estimator=None, legend=False, lw=0.75, marker="+",
                 markersize=2.8, markeredgewidth=0.6, ax=ax, zorder=2)

sns.lineplot(x=hours, y=t_gfs, color="black", lw=2.6, ax=ax, zorder=3)
sns.lineplot(x=hours, y=t_control, color="#0000ff", lw=2.6, ax=ax, zorder=3)
sns.lineplot(x=hours, y=t_mean, color="#ff0000", lw=3.2, ax=ax, zorder=4)
sns.lineplot(x=hours_p, y=np.array(p_gfs) + P0, color="black", lw=2.6, ax=ax, zorder=3)
sns.lineplot(x=hours_p, y=np.array(p_control) + P0, color="#0000ff", lw=2.6, ax=ax, zorder=3)
sns.lineplot(x=hours_p, y=np.array(p_mean) + P0, color="#ff0000", lw=3.2, ax=ax, zorder=4)

# zero line (double)
ax.axhline(0, color="black", lw=1, zorder=1.5)
ax.axhline(0.3, color="black", lw=1, zorder=1.5)

# snow probability strip
hours_s = (np.arange(len(snow_prob)) + snow_first) * step
tops = np.array(snow_prob) * 0.03 - 39.5
ax.bar(hours_s, tops + 40.5, bottom=-40.5, width=step, color="#ccffff", lw=0, zorder=1.2)
ax.scatter(hours_s, np.full(len(hours_s), -41.4), s=60, marker="o", color="#a9dcf7",
           edgecolors="none", zorder=3, clip_on=False)
ax.scatter(hours_s, np.full(len(hours_s), -41.4), s=38, marker=(6, 2, 0), color="#3d9ee0",
           linewidths=0.8, zorder=3.1, clip_on=False)
for h, p in zip(hours_s, snow_prob):
    ax.text(h, -38.9, f"{p}%", rotation=90, ha="center", va="center", fontsize=6.8,
            color="#0000ff", zorder=5, clip_on=False)

ax.text(6, 7.9, "Températures 2m", fontsize=7.5, va="center")
ax.text(6, -29.7, "Précipitations", fontsize=7.5, va="center")

# axes
ax.set_xlim(0, 384)
ax.set_ylim(-42.9, 42.9)
ax.set_xticks(12 + 24 * np.arange(len(dates)))
ax.set_xticklabels(dates, rotation=90, fontsize=7, va="top")
ax.set_yticks(np.arange(-35, 41, 5))
ax.set_yticklabels([str(v) for v in range(-35, 41, 5)], fontsize=8)
ax.tick_params(axis="y", length=0, pad=16.5)
ax.tick_params(axis="x", length=0, pad=2)
down = mtransforms.ScaledTranslation(0, -0.025, fig.dpi_scale_trans)
for lbl in ax.get_yticklabels():
    lbl.set_horizontalalignment("center")
    lbl.set_transform(lbl.get_transform() + down)
shift = mtransforms.ScaledTranslation(0.06, 0, fig.dpi_scale_trans)
for lbl in ax.get_xticklabels():
    lbl.set_transform(lbl.get_transform() + shift)
ax.grid(True, color="#c0c0c0", lw=1)
ax.set_axisbelow(True)
ax.set_xlabel("")
ax.set_ylabel("")
ax.spines["top"].set_visible(False)
for s in ("left", "right", "bottom"):
    ax.spines[s].set_color("black")
    ax.spines[s].set_linewidth(1)

ax2 = ax.twinx()
ax2.set_ylim(-42.9 - P0, 42.9 - P0)
ax2.set_yticks(np.arange(0, 76, 5))
ax2.set_yticklabels([str(v) for v in range(0, 76, 5)], fontsize=8)
ax2.tick_params(axis="y", length=0, pad=16)
for lbl in ax2.get_yticklabels():
    lbl.set_horizontalalignment("center")
    lbl.set_transform(lbl.get_transform() + down)
ax2.grid(False)
for s in ("left", "top", "bottom"):
    ax2.spines[s].set_visible(False)
ax2.spines["right"].set_color("black")
ax2.spines["right"].set_linewidth(1)

fy = lambda y: 1 - y / H
fx = lambda x: x / W
fig.text(fx(30), fy(606), "(°C)", ha="center", va="center", fontsize=7.5)
fig.text(fx(717), fy(606), "(mm)", ha="center", va="center", fontsize=7.5)

# legend
fig.add_artist(Line2D([fx(35), fx(66)], [fy(652)] * 2, color="#ff0000", lw=4.5))
fig.text(fx(75), fy(653), "Moyenne des scénarios", va="center", fontsize=7.5)
fig.add_artist(Line2D([fx(225), fx(258)], [fy(637)] * 2, color="#0000ff", lw=3.5))
fig.add_artist(Line2D([fx(225), fx(258)], [fy(651)] * 2, color="black", lw=3.5))
fig.text(fx(267), fy(637), "Run de contrôle", va="center", fontsize=7.5)
fig.text(fx(267), fy(650), "Run GFS", va="center", fontsize=7.5)
fig.text(fx(466), fy(652), "20 Perturbations", ha="right", va="center", fontsize=7.5)
for k, (name, c) in enumerate(zip(members, member_colors)):
    x0 = 470 + k * 10.95
    fig.add_artist(Rectangle((fx(x0), fy(657)), 9 / W, 7 / H, color=c, lw=0))
    fig.text(fx(x0 + 4.5), fy(645), name, ha="center", va="center", fontsize=6)

fig.add_artist(Rectangle((fx(20), fy(698)), 420 / W, 30 / H, fill=False, ec="black", lw=1))
fig.text(fx(30), fy(680), "Diagramme des ensembles GEFS sur 384h : 50.8N 5.8E",
         fontweight="bold", fontsize=8.5, va="center")
fig.text(fx(30), fy(691), "Température 2m (°C) , précipitations (mm)", fontsize=7.3, va="center")
fig.text(fx(452), fy(672), "Ensemble GEFS du 08/01/2013 - 12h", fontsize=7.3, va="center")
fig.text(fx(452), fy(691), "Copyright 2013 Meteociel.fr", fontweight="bold", fontsize=8.6,
         va="center")

fig.savefig("out.png", dpi=100)
